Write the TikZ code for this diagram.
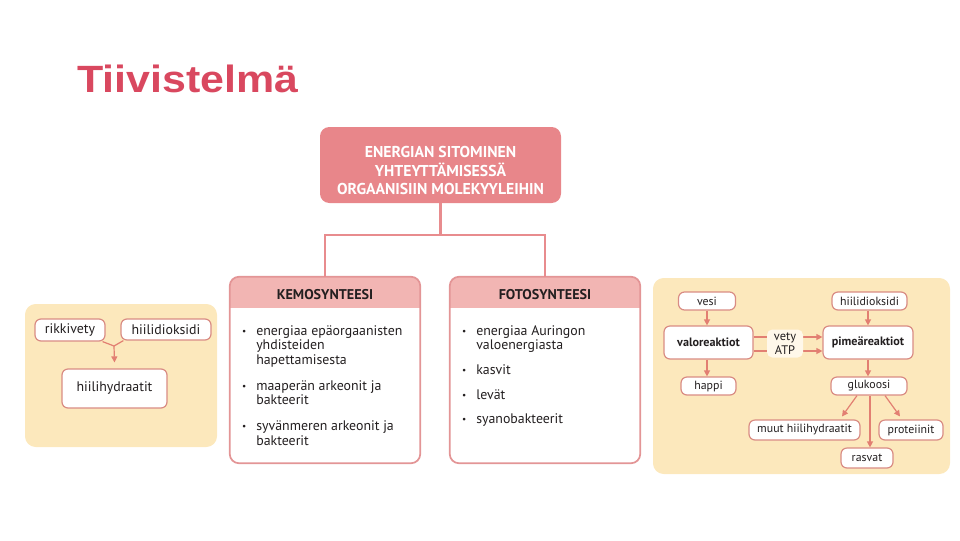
\documentclass[tikz,border=0pt]{standalone}
\usepackage{graphicx}
\usepackage{fontspec}
\setmainfont{PT Sans}
\newfontfamily\titlefont{Liberation Sans}
\usetikzlibrary{arrows.meta,calc}
\definecolor{titlecol}{HTML}{D9485F}
\definecolor{topfill}{HTML}{E8868A}
\definecolor{hdrfill}{HTML}{F2B5B3}
\definecolor{framecol}{HTML}{E39596}
\definecolor{linecol}{HTML}{E88C8E}
\definecolor{panelcol}{HTML}{FCE8BC}
\definecolor{nodeborder}{HTML}{D98C84}
\definecolor{arrowcol}{HTML}{E27F72}
\definecolor{textcol}{HTML}{231F20}
\definecolor{vetyfill}{HTML}{FFF8EA}
\newcommand\U{0.75pt}
\tikzset{
  wh/.style 2 args={minimum width=#1*\U, minimum height=#2*\U},
  sbox/.style={draw=nodeborder, fill=white, rounded corners=4.5pt, line width=0.9pt, inner sep=0pt, font=\fontsize{8.9}{10}\selectfont, text=textcol},
  bbox/.style={sbox, font=\fontsize{9.1}{10}\selectfont\bfseries},
  lbox/.style={sbox, font=\fontsize{10.4}{12}\selectfont},
  panelbox/.style={fill=panelcol, rounded corners=8pt, inner sep=0pt},
  arr/.style={draw=arrowcol, line width=0.9pt, -{Triangle[length=4.5pt,width=4.5pt]}},
  thinline/.style={draw=arrowcol, line width=0.9pt},
  conn/.style={draw=linecol, line width=2.2pt},
  txt/.style={anchor=base west, inner sep=0pt, font=\fontsize{10.4}{12}\selectfont, text=textcol},
  toptxt/.style={anchor=base, inner sep=0pt, font=\fontsize{11.8}{13}\selectfont\bfseries, text=white},
  hdrtxt/.style={anchor=base, inner sep=0pt, font=\fontsize{10.6}{12}\selectfont\bfseries, text=textcol},
}
\newcommand\bul{\llap{\raisebox{0.5pt}{\fontsize{7}{7}\selectfont •}\hspace{7.5pt}}}
\begin{document}
\begin{tikzpicture}[x=0.75pt,y=-0.75pt]
\useasboundingbox (0,0) rectangle (960,540);

% title
\node[anchor=base west, inner sep=0pt, text=titlecol, font=\titlefont\bfseries\fontsize{28.5}{30}\selectfont] (title) at (77,92) {\scalebox{1.13}[1]{Tiivistelmä}};

% top box
\node[fill=topfill, rounded corners=7pt, wh={241}{76}, inner sep=0pt] (top) at (440.5,165) {};
\node[toptxt] (t1) at (440.5,157.5) {ENERGIAN SITOMINEN};
\node[toptxt] (t2) at (440.5,176) {YHTEYTTÄMISESSÄ};
\node[toptxt] (t3) at (440.5,194.5) {ORGAANISIIN MOLEKYYLEIHIN};

% main boxes
\node[wh={190}{186}, inner sep=0pt] (kemo) at (325,370) {};
\node[wh={190}{186}, inner sep=0pt] (foto) at (545,370) {};
\begin{scope}
  \clip[rounded corners=7pt] (kemo.north west) rectangle (kemo.south east);
  \fill[white] (kemo.north west) rectangle (kemo.south east);
  \fill[hdrfill] (kemo.north west) rectangle ($(kemo.north east)+(0,31)$);
\end{scope}
\begin{scope}
  \clip[rounded corners=7pt] (foto.north west) rectangle (foto.south east);
  \fill[white] (foto.north west) rectangle (foto.south east);
  \fill[hdrfill] (foto.north west) rectangle ($(foto.north east)+(0,31)$);
\end{scope}
\draw[framecol, line width=1.3pt, rounded corners=7pt] (kemo.north west) rectangle (kemo.south east);
\draw[framecol, line width=1.3pt, rounded corners=7pt] (foto.north west) rectangle (foto.south east);

% connectors
\coordinate (jT) at (440.5,235);
\draw[conn] (top.south) -- (jT);
\draw[conn, line join=miter] (kemo.north) |- (jT) -| (foto.north);

% headers
\node[hdrtxt] (kh) at (325,299) {KEMOSYNTEESI};
\node[hdrtxt] (fh) at (545,299) {FOTOSYNTEESI};

% kemo items
\node[txt] (k1a) at (256,335) {\bul energiaa epäorgaanisten};
\node[txt] (k1b) at (256,349.5) {yhdisteiden};
\node[txt] (k1c) at (256,364) {hapettamisesta};
\node[txt] (k2a) at (256,390) {\bul maaperän arkeonit ja};
\node[txt] (k2b) at (256,404.5) {bakteerit};
\node[txt] (k3a) at (256,430) {\bul syvänmeren arkeonit ja};
\node[txt] (k3b) at (256,445) {bakteerit};

% foto items
\node[txt] (f1a) at (476,335) {\bul energiaa Auringon};
\node[txt] (f1b) at (476,349) {valoenergiasta};
\node[txt] (f2) at (476,374) {\bul kasvit};
\node[txt] (f3) at (476,399) {\bul levät};
\node[txt] (f4) at (476,423) {\bul syanobakteerit};

% left panel
\node[panelbox, wh={192}{143}] (lpanel) at (121,375.5) {};
\node[lbox, wh={70}{22}] (rikki) at (70,330) {rikkivety};
\node[lbox, wh={90}{21}] (hiiliL) at (166,329.5) {hiilidioksidi};
\node[lbox, wh={105}{39}] (hhyd) at (114.5,388.5) {hiilihydraatit};
\coordinate (jL) at (114,346);
\draw[thinline] ($(rikki.south east)+(-3,0)$) -- (jL) -- ($(hiiliL.south west)+(3,0)$);
\draw[arr] (jL) -- ($(hhyd.north)+(0,-6)$);

% right panel
\node[panelbox, wh={297}{196}] (rpanel) at (801.5,376) {};
\node[sbox, wh={57}{18}] (vesi) at (707,301) {vesi};
\node[sbox, wh={75}{18}] (hiiliR) at (869.5,301) {hiilidioksidi};
\node[bbox, wh={89}{33}] (valo) at (708.5,342.5) {valoreaktiot};
\node[bbox, wh={90}{33}] (pime) at (868,342.5) {pimeäreaktiot};
\node[sbox, wh={55}{18}] (happi) at (708.5,386) {happi};
\node[sbox, wh={76}{18}] (gluk) at (869,386) {glukoosi};
\node[sbox, wh={111}{20}] (muut) at (804.5,430) {muut hiilihydraatit};
\node[sbox, wh={64}{20}] (prot) at (911,430) {proteiinit};
\node[sbox, wh={52}{20}] (rasv) at (867,458) {rasvat};

\draw[arr] (vesi.south) -- (vesi.south |- valo.north);
\draw[arr] (hiiliR.south -| pime.north) -- (pime.north);
\draw[arr] (valo.south -| vesi.south) -- (vesi.south |- happi.north);
\draw[arr] (pime.south) -- (pime.south |- gluk.north);
\draw[arr] ($(valo.east)+(0,-5.5)$) -- ($(pime.west)+(0,-5.5)$);
\draw[arr] ($(valo.east)+(0,8.5)$) -- ($(pime.west)+(0,8.5)$);
\coordinate (gm) at ($(gluk.south)+(-12,0)$);
\coordinate (gr) at ($(gluk.south)+(1,0)$);
\coordinate (gp) at ($(gluk.south)+(16,0)$);
\draw[arr] (gm) -- ($(muut.north)+(37.5,-3)$);
\draw[arr] (gr) -- (gr |- rasv.north);
\draw[arr] (gp) -- ($(prot.north)+(-11,-3)$);
\node[fill=vetyfill, rounded corners=4pt, wh={36}{28}, inner sep=0pt, align=center, font=\fontsize{9.3}{10.5}\selectfont, text=textcol] (vety) at (785,343.5) {vety\\ATP};
\end{tikzpicture}
\end{document}
